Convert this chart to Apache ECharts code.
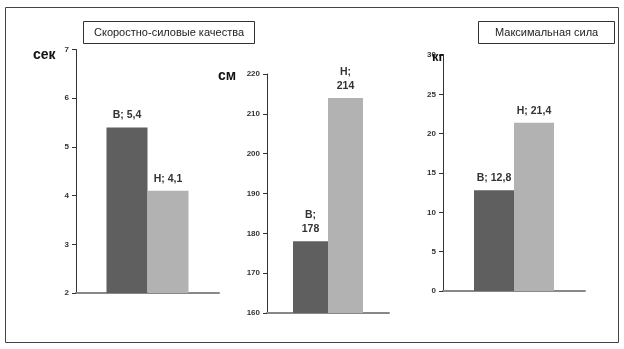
<!DOCTYPE html>
<html>
<head>
<meta charset="utf-8">
<script src="https://cdn.jsdelivr.net/npm/echarts@6/dist/echarts.min.js"></script>
<style>
  html, body { margin: 0; padding: 0; background: #fff; }
  #chart { width: 624px; height: 349px; }
</style>
</head>
<body>
<div id="chart"></div>
<script>
// группы
const groupNames = ['В', 'Н'];
// скоростно-силовые качества, сек
const speedValues = [5.4, 4.1];
const speedTicks = [2, 7, 1];
// прыжок, см
const jumpValues = [178, 214];
const jumpTicks = [160, 220, 10];
// максимальная сила, кг
const strengthValues = [12.8, 21.4];
const strengthTicks = [0, 30, 5];

const panelTitles = ['Скоростно-силовые качества', 'Максимальная сила'];
const unitNames = ['сек', 'см', 'кг'];

const colors = ['#5f5f5f', '#b2b2b2'];
const fontFamily = '"Liberation Sans", Arial, sans-serif';

let myChart = echarts.init(document.getElementById('chart'));

function fmt(v) {
  return String(v).replace('.', ',');
}

function yAxisOf(idx, ticks) {
  return {
    type: 'value',
    gridIndex: idx,
    min: ticks[0],
    max: ticks[1],
    interval: ticks[2],
    axisLine: { show: true, lineStyle: { color: '#333', width: 1 } },
    axisTick: { show: true, length: 4, lineStyle: { color: '#333' } },
    axisLabel: { fontSize: 8, fontWeight: 'bold', color: '#333', fontFamily: fontFamily, margin: 7 },
    splitLine: { show: false }
  };
}

function xAxisOf(idx) {
  return {
    type: 'category',
    gridIndex: idx,
    data: [''],
    axisLine: { show: true, lineStyle: { color: '#888', width: 2 } },
    axisTick: { show: false },
    axisLabel: { show: false }
  };
}

let series = [];
const panels = [
  { values: speedValues, barWidth: 41, twoLines: false },
  { values: jumpValues, barWidth: 35, twoLines: true },
  { values: strengthValues, barWidth: 40, twoLines: false }
];
panels.forEach((p, idx) => {
  groupNames.forEach((name, i) => {
    series.push({
      name: name,
      type: 'bar',
      xAxisIndex: idx,
      yAxisIndex: idx,
      barWidth: p.barWidth,
      barGap: '0%',
      data: [p.values[i]],
      itemStyle: { color: colors[i] },
      label: {
        show: true,
        position: 'top',
        distance: 5,
        fontSize: 10.5,
        fontWeight: 'bold',
        color: '#333',
        lineHeight: 14,
        fontFamily: fontFamily,
        formatter: params => params.seriesName + ';' + (p.twoLines ? '\n' : ' ') + fmt(params.value)
      },
      emphasis: { disabled: true },
      silent: true
    });
  });
});

let option = {
  animation: false,
  title: [
    {
      text: panelTitles[0],
      left: 83,
      top: 21,
      padding: [6, 11, 6, 11],
      borderColor: '#333',
      borderWidth: 1,
      textStyle: { fontSize: 11, fontWeight: 'normal', color: '#222', fontFamily: fontFamily }
    },
    {
      text: panelTitles[1],
      left: 478,
      top: 21,
      padding: [6, 17, 6, 17],
      borderColor: '#333',
      borderWidth: 1,
      textStyle: { fontSize: 11, fontWeight: 'normal', color: '#222', fontFamily: fontFamily }
    },
    {
      text: unitNames[0], left: 33, top: 48, padding: 0,
      textStyle: { fontSize: 14, fontWeight: 'bold', color: '#111', fontFamily: fontFamily }
    },
    {
      text: unitNames[1], left: 218, top: 69, padding: 0,
      textStyle: { fontSize: 14, fontWeight: 'bold', color: '#111', fontFamily: fontFamily }
    },
    {
      text: unitNames[2], left: 432, top: 51, padding: 0,
      textStyle: { fontSize: 13, fontWeight: 'bold', color: '#111', fontFamily: fontFamily }
    }
  ],
  graphic: [
    {
      type: 'rect',
      shape: { x: 5.5, y: 7.5, width: 613, height: 335 },
      style: { fill: 'none', stroke: '#444', lineWidth: 1 },
      silent: true
    }
  ],
  grid: [
    { left: 76, top: 49.5, width: 143, height: 243.5 },
    { left: 267, top: 74, width: 122, height: 239 },
    { left: 443, top: 55, width: 142, height: 236 }
  ],
  xAxis: [xAxisOf(0), xAxisOf(1), xAxisOf(2)],
  yAxis: [yAxisOf(0, speedTicks), yAxisOf(1, jumpTicks), yAxisOf(2, strengthTicks)],
  series: series
};

myChart.setOption(option);
</script>
</body>
</html>
